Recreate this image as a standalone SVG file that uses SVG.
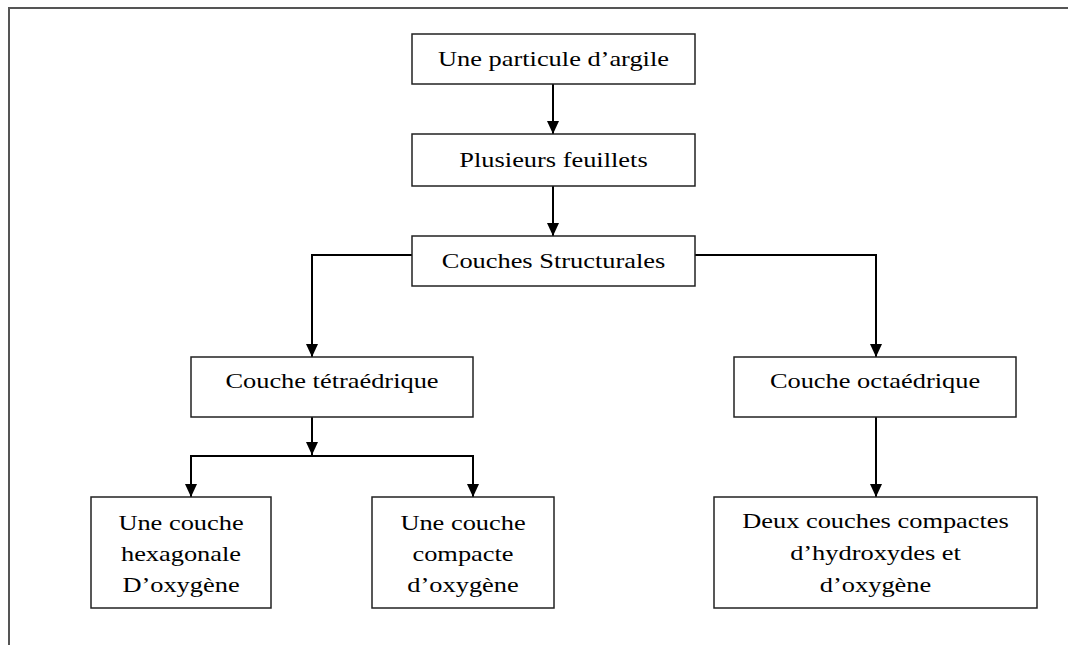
<svg xmlns="http://www.w3.org/2000/svg" width="1068" height="645" viewBox="0 0 1068 645">
<style>
.box{fill:#fff;stroke:#222;stroke-width:1.5}
.t{font-family:"Liberation Serif","Times New Roman",serif;font-size:22px;fill:#000;text-anchor:middle}
.c{fill:none;stroke:#000;stroke-width:2}
</style>
<defs>
<marker id="a" markerWidth="13" markerHeight="12" refX="13" refY="6" orient="auto" markerUnits="userSpaceOnUse" viewBox="0 0 13 12">
<path d="M0,0 L13,6 L0,12 Z" fill="#000"/>
</marker>
</defs>
<rect x="0" y="0" width="1068" height="645" fill="#fff"/>
<path d="M9,645 V8 H1068" fill="none" stroke="#555" stroke-width="2"/>
<g id="connectors">
<path class="c" d="M553,84 V134" marker-end="url(#a)"/>
<path class="c" d="M553,186 V236" marker-end="url(#a)"/>
<path class="c" d="M412,255 H312 V357" marker-end="url(#a)"/>
<path class="c" d="M695,255 H876 V357" marker-end="url(#a)"/>
<path class="c" d="M312,417 V455" marker-end="url(#a)"/>
<path class="c" d="M312,456 H191 V497" marker-end="url(#a)"/>
<path class="c" d="M312,456 H473 V497" marker-end="url(#a)"/>
<path class="c" d="M876,417 V497" marker-end="url(#a)"/>
</g>
<g id="n1"><rect class="box" x="412" y="34" width="283" height="50"/><text class="t" transform="translate(553.5 66) scale(1.2 1)">Une particule d’argile</text></g>
<g id="n2"><rect class="box" x="412" y="134" width="283" height="52"/><text class="t" transform="translate(553.5 167) scale(1.2 1)">Plusieurs feuillets</text></g>
<g id="n3"><rect class="box" x="412" y="236" width="283" height="50"/><text class="t" transform="translate(553.5 268) scale(1.2 1)">Couches Structurales</text></g>
<g id="n4"><rect class="box" x="191" y="357" width="282" height="60"/><text class="t" transform="translate(332 388) scale(1.2 1)">Couche tétraédrique</text></g>
<g id="n5"><rect class="box" x="734" y="357" width="282" height="60"/><text class="t" transform="translate(875 388) scale(1.2 1)">Couche octaédrique</text></g>
<g id="n6"><rect class="box" x="91" y="497" width="180" height="111"/><text class="t" transform="translate(181 530) scale(1.2 1)">Une couche</text><text class="t" transform="translate(181 561) scale(1.2 1)">hexagonale</text><text class="t" transform="translate(181 592) scale(1.2 1)">D’oxygène</text></g>
<g id="n7"><rect class="box" x="372" y="497" width="182" height="111"/><text class="t" transform="translate(463 530) scale(1.2 1)">Une couche</text><text class="t" transform="translate(463 561) scale(1.2 1)">compacte</text><text class="t" transform="translate(463 592) scale(1.2 1)">d’oxygène</text></g>
<g id="n8"><rect class="box" x="714" y="497" width="323" height="111"/><text class="t" transform="translate(875.5 528) scale(1.2 1)">Deux couches compactes</text><text class="t" transform="translate(875.5 560) scale(1.2 1)">d’hydroxydes et</text><text class="t" transform="translate(875.5 592) scale(1.2 1)">d’oxygène</text></g>
</svg>
